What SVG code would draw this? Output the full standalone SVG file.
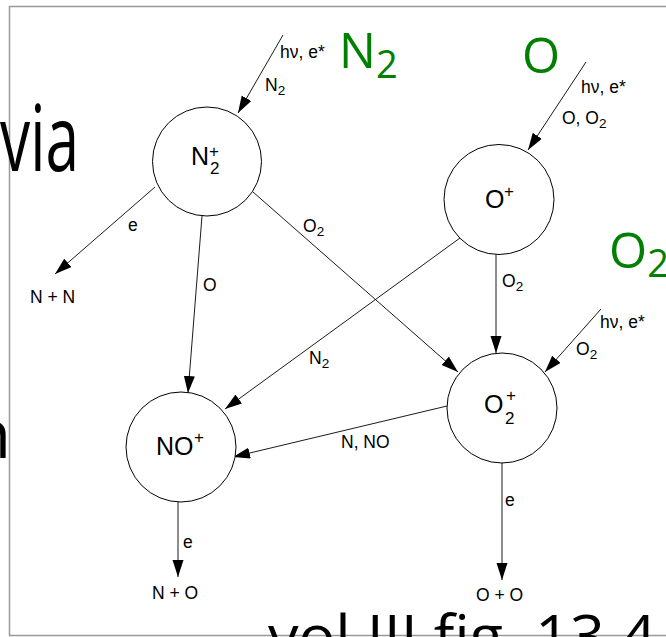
<svg xmlns="http://www.w3.org/2000/svg" width="666" height="637" viewBox="0 0 666 637">
<style>
.bg{font-family:"Open Sans","DejaVu Sans",sans-serif;fill:#000}
.gr{font-family:"Open Sans","DejaVu Sans",sans-serif;fill:#008000;font-size:49px}
.lbl{font-family:"Liberation Sans",Arial,sans-serif;font-size:17.5px;fill:#000}
.sub{font-size:13.5px}
.nd{font-family:"Liberation Sans",Arial,sans-serif;font-size:25px;fill:#000}
.sup{font-family:"Liberation Sans",Arial,sans-serif;font-size:17px;fill:#000}
circle{fill:#fff;stroke:#000;stroke-width:1}
.c line{stroke:#000;stroke-width:0.9;marker-end:url(#ah)}
</style>
<defs>
<marker id="ah" markerUnits="userSpaceOnUse" markerWidth="18" markerHeight="12" refX="17" refY="5.5" orient="auto">
<path d="M0,0 L17,5.5 L0,11 z" fill="#000"/>
</marker>
</defs>
<rect x="0" y="0" width="666" height="637" fill="#fff"/>
<rect x="9.5" y="6.5" width="680" height="629" fill="none" stroke="#999" stroke-width="1.5"/>

<g id="connectors" class="c">
<line x1="283" y1="35" x2="238" y2="113"/>
<line x1="586" y1="62" x2="528" y2="150"/>
<line x1="155" y1="187" x2="55" y2="274"/>
<line x1="202" y1="216" x2="188" y2="393"/>
<line x1="253" y1="192" x2="458" y2="372"/>
<line x1="460" y1="238" x2="225" y2="409"/>
<line x1="496" y1="254" x2="496" y2="353"/>
<line x1="601" y1="309" x2="545" y2="372"/>
<line x1="447" y1="406" x2="233" y2="457"/>
<line x1="178" y1="502" x2="178" y2="577"/>
<line x1="502" y1="463" x2="502" y2="580"/>
</g>

<g id="edge-labels">
<text class="lbl" x="280" y="58">hν, e*</text>
<text class="lbl" x="265" y="91">N<tspan class="sub" dy="4">2</tspan></text>
<text class="lbl" x="581" y="93">hν, e*</text>
<text class="lbl" x="562" y="124">O, O<tspan class="sub" dy="4">2</tspan></text>
<text class="lbl" x="128" y="231">e</text>
<text class="lbl" x="30" y="303">N + N</text>
<text class="lbl" x="203" y="291">O</text>
<text class="lbl" x="303" y="232">O<tspan class="sub" dy="4">2</tspan></text>
<text class="lbl" x="309" y="364">N<tspan class="sub" dy="4">2</tspan></text>
<text class="lbl" x="502" y="287">O<tspan class="sub" dy="4">2</tspan></text>
<text class="lbl" x="600" y="328">hν, e*</text>
<text class="lbl" x="576" y="355">O<tspan class="sub" dy="4">2</tspan></text>
<text class="lbl" x="341" y="448">N, NO</text>
<text class="lbl" x="183" y="548">e</text>
<text class="lbl" x="152" y="599">N + O</text>
<text class="lbl" x="505" y="506">e</text>
<text class="lbl" x="476" y="601">O + O</text>
</g>

<g id="node-N2plus">
<circle cx="207" cy="161.5" r="54.5"/>
<text class="nd" x="191" y="165">N</text>
<text class="sup" x="209" y="157">+</text>
<text class="sup" x="210" y="174">2</text>
</g>
<g id="node-Oplus">
<circle cx="499" cy="199.5" r="55"/>
<text class="nd" x="485" y="208">O</text>
<text class="sup" x="504" y="197">+</text>
</g>
<g id="node-O2plus">
<circle cx="502" cy="408" r="55"/>
<text class="nd" x="484" y="413">O</text>
<text class="sup" x="506" y="401">+</text>
<text class="sup" x="505" y="424">2</text>
</g>
<g id="node-NOplus">
<circle cx="181" cy="447" r="55"/>
<text class="nd" x="156" y="455">NO</text>
<text class="sup" x="194" y="443">+</text>
</g>

<g id="green-labels">
<text class="gr" x="339" y="68">N<tspan font-size="38" dy="10">2</tspan></text>
<text class="gr" x="522" y="73">O</text>
<text class="gr" x="609" y="268">O<tspan font-size="38" dy="9">2</tspan></text>
</g>

<g id="slide-text">
<text class="bg" x="0" y="171" font-size="92" textLength="79" lengthAdjust="spacingAndGlyphs">via</text>
<text class="bg" x="11" y="458" font-size="67" text-anchor="end">n</text>
<text class="bg" x="268" y="657" font-size="59" textLength="388" lengthAdjust="spacingAndGlyphs">vol III fig. 13.4</text>
</g>
</svg>
